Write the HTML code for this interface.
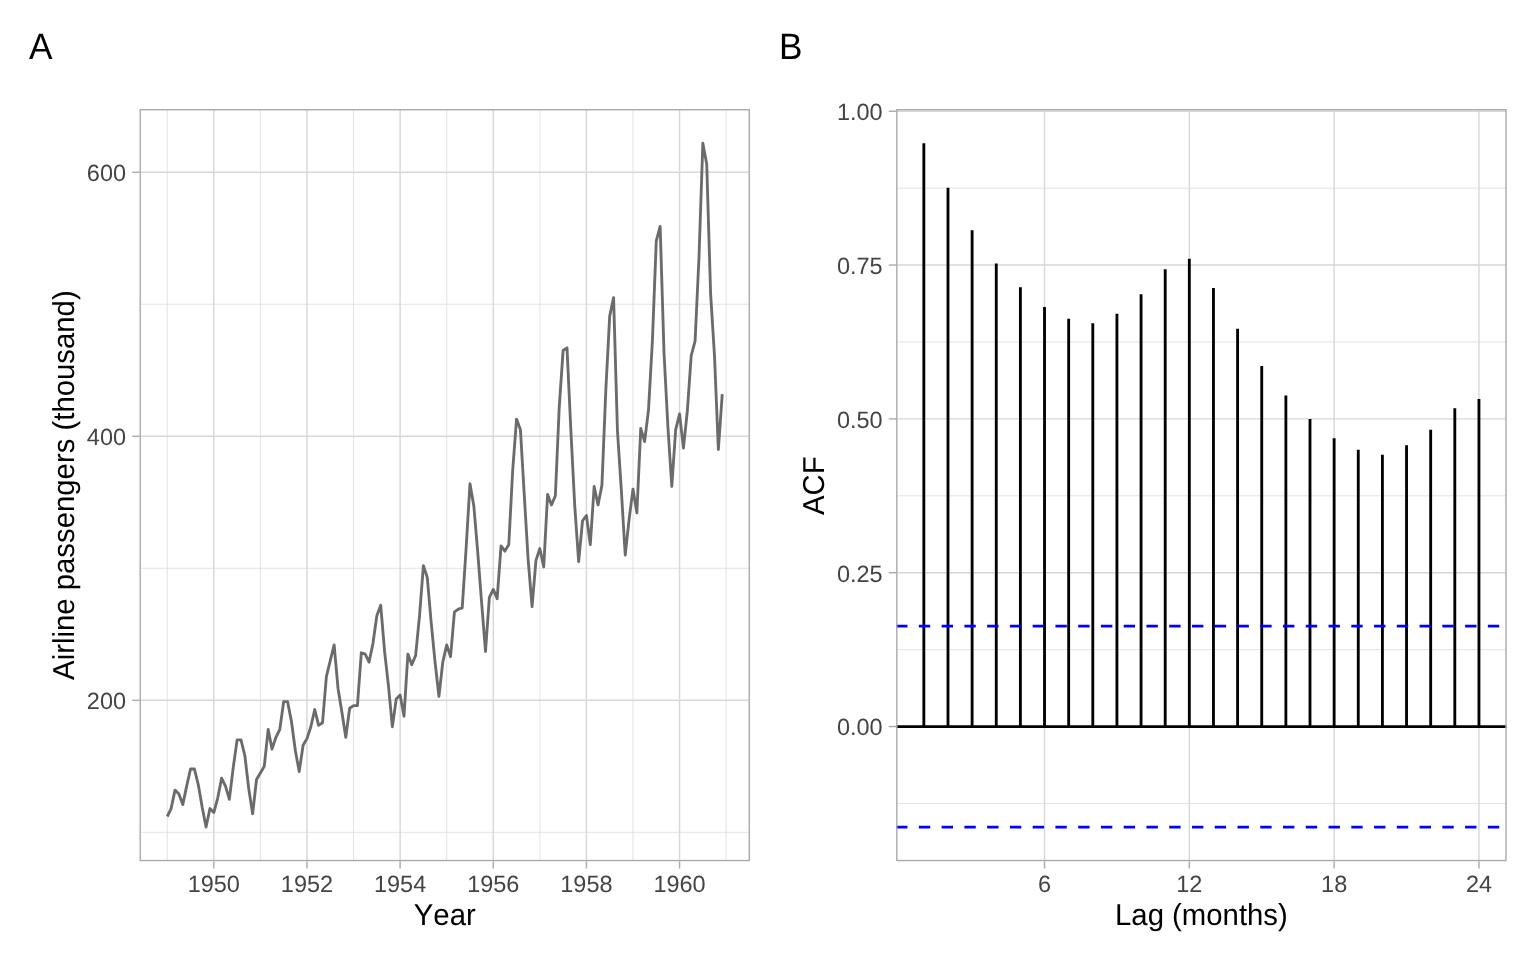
<!DOCTYPE html>
<html lang="en"><head><meta charset="utf-8"><title>AirPassengers</title>
<style>html,body{margin:0;padding:0;background:#fff;overflow:hidden}svg{display:block}text{font-kerning:none;text-rendering:geometricPrecision}</style></head>
<body>
<svg width="1536" height="960" viewBox="0 0 1536 960" font-family="'Liberation Sans', sans-serif">
<defs>
<clipPath id="ca"><rect x="139.5" y="109" width="610.5" height="752.25"/></clipPath>
<clipPath id="cb"><rect x="896.1" y="109" width="610.6" height="752.25"/></clipPath>
</defs>
<rect width="1536" height="960" fill="#fff"/>
<g id="panelA">
<g clip-path="url(#ca)">
<rect x="139.5" y="109" width="610.5" height="752.25" fill="#fff"/>
<line x1="139.5" x2="750" y1="832.34" y2="832.34" stroke="#D7D7D7" stroke-width="0.71"/>
<line x1="139.5" x2="750" y1="568.3" y2="568.3" stroke="#D7D7D7" stroke-width="0.71"/>
<line x1="139.5" x2="750" y1="304.26" y2="304.26" stroke="#D7D7D7" stroke-width="0.71"/>
<line y1="109" y2="861.25" x1="167.25" x2="167.25" stroke="#D7D7D7" stroke-width="0.71"/>
<line y1="109" y2="861.25" x1="260.4" x2="260.4" stroke="#D7D7D7" stroke-width="0.71"/>
<line y1="109" y2="861.25" x1="353.54" x2="353.54" stroke="#D7D7D7" stroke-width="0.71"/>
<line y1="109" y2="861.25" x1="446.69" x2="446.69" stroke="#D7D7D7" stroke-width="0.71"/>
<line y1="109" y2="861.25" x1="539.84" x2="539.84" stroke="#D7D7D7" stroke-width="0.71"/>
<line y1="109" y2="861.25" x1="632.98" x2="632.98" stroke="#D7D7D7" stroke-width="0.71"/>
<line y1="109" y2="861.25" x1="726.13" x2="726.13" stroke="#D7D7D7" stroke-width="0.71"/>
<line x1="139.5" x2="750" y1="700.32" y2="700.32" stroke="#D7D7D7" stroke-width="1.42"/>
<line x1="139.5" x2="750" y1="436.28" y2="436.28" stroke="#D7D7D7" stroke-width="1.42"/>
<line x1="139.5" x2="750" y1="172.24" y2="172.24" stroke="#D7D7D7" stroke-width="1.42"/>
<line y1="109" y2="861.25" x1="213.82" x2="213.82" stroke="#D7D7D7" stroke-width="1.42"/>
<line y1="109" y2="861.25" x1="306.97" x2="306.97" stroke="#D7D7D7" stroke-width="1.42"/>
<line y1="109" y2="861.25" x1="400.12" x2="400.12" stroke="#D7D7D7" stroke-width="1.42"/>
<line y1="109" y2="861.25" x1="493.26" x2="493.26" stroke="#D7D7D7" stroke-width="1.42"/>
<line y1="109" y2="861.25" x1="586.41" x2="586.41" stroke="#D7D7D7" stroke-width="1.42"/>
<line y1="109" y2="861.25" x1="679.56" x2="679.56" stroke="#D7D7D7" stroke-width="1.42"/>
<polyline points="167.25,816.5 171.13,808.57 175.01,790.09 178.89,794.05 182.77,804.61 186.66,786.13 190.54,768.97 194.42,768.97 198.3,784.81 202.18,807.25 206.06,827.06 209.94,808.57 213.82,812.53 217.7,798.01 221.59,778.21 225.47,786.13 229.35,799.33 233.23,767.65 237.11,739.92 240.99,739.92 244.87,755.77 248.75,788.77 252.63,813.85 256.52,779.53 260.4,772.93 264.28,766.33 268.16,729.36 272.04,749.17 275.92,737.28 279.8,729.36 283.68,701.64 287.56,701.64 291.45,721.44 295.33,750.49 299.21,771.61 303.09,745.2 306.97,738.6 310.85,726.72 314.73,709.56 318.61,725.4 322.49,722.76 326.38,676.55 330.26,660.71 334.14,644.87 338.02,688.44 341.9,712.2 345.78,737.28 349.66,708.24 353.54,705.6 357.42,705.6 361.31,652.79 365.19,654.11 369.07,662.03 372.95,643.55 376.83,615.82 380.71,605.26 384.59,651.47 388.47,685.8 392.35,726.72 396.24,699 400.12,695.04 404,716.16 407.88,654.11 411.76,664.67 415.64,655.43 419.52,615.82 423.4,565.66 427.28,577.54 431.17,622.43 435.05,662.03 438.93,696.36 442.81,662.03 446.69,644.87 450.57,656.75 454.45,611.86 458.33,609.22 462.22,607.9 466.1,548.49 469.98,483.8 473.86,506.25 477.74,552.46 481.62,602.62 485.5,651.47 489.38,597.34 493.26,589.42 497.15,598.66 501.03,545.85 504.91,551.14 508.79,544.53 512.67,470.6 516.55,419.11 520.43,429.68 524.31,495.69 528.19,560.38 532.08,606.58 535.96,560.38 539.84,548.49 543.72,566.98 547.6,494.37 551.48,504.93 555.36,495.69 559.24,407.23 563.12,350.46 567.01,347.82 570.89,431 574.77,506.25 578.65,561.7 582.53,520.77 586.41,515.49 590.29,544.53 594.17,486.45 598.05,504.93 601.94,485.12 605.82,390.07 609.7,316.14 613.58,297.66 617.46,431 621.34,490.41 625.22,555.1 629.1,519.45 632.98,489.09 636.87,512.85 640.75,428.36 644.63,441.56 648.51,409.87 652.39,341.22 656.27,240.89 660.15,226.37 664.03,353.1 667.91,427.04 671.8,486.45 675.68,429.68 679.56,413.83 683.44,448.16 687.32,411.19 691.2,355.75 695.08,341.22 698.96,258.05 702.84,143.19 706.73,164.32 710.61,293.7 714.49,355.75 718.37,449.48 722.25,394.03" fill="none" stroke="#6B6B6B" stroke-width="2.85" stroke-linejoin="round" stroke-linecap="butt"/>
</g>
<rect x="139.5" y="109" width="610.5" height="752.25" fill="none" stroke="#ABABAB" stroke-width="2.85" clip-path="url(#ca)"/>
<line x1="132.17" x2="139.5" y1="700.32" y2="700.32" stroke="#ABABAB" stroke-width="1.42"/>
<line x1="132.17" x2="139.5" y1="436.28" y2="436.28" stroke="#ABABAB" stroke-width="1.42"/>
<line x1="132.17" x2="139.5" y1="172.24" y2="172.24" stroke="#ABABAB" stroke-width="1.42"/>
<line y1="861.25" y2="868.58" x1="213.82" x2="213.82" stroke="#ABABAB" stroke-width="1.42"/>
<line y1="861.25" y2="868.58" x1="306.97" x2="306.97" stroke="#ABABAB" stroke-width="1.42"/>
<line y1="861.25" y2="868.58" x1="400.12" x2="400.12" stroke="#ABABAB" stroke-width="1.42"/>
<line y1="861.25" y2="868.58" x1="493.26" x2="493.26" stroke="#ABABAB" stroke-width="1.42"/>
<line y1="861.25" y2="868.58" x1="586.41" x2="586.41" stroke="#ABABAB" stroke-width="1.42"/>
<line y1="861.25" y2="868.58" x1="679.56" x2="679.56" stroke="#ABABAB" stroke-width="1.42"/>
<g font-size="23.47" fill="#444444" text-anchor="end">
<text x="126" y="709.12">200</text>
<text x="126" y="445.08">400</text>
<text x="126" y="181.04">600</text>
</g>
<g font-size="23.47" fill="#444444" text-anchor="middle">
<text x="213.82" y="891.8">1950</text>
<text x="306.97" y="891.8">1952</text>
<text x="400.12" y="891.8">1954</text>
<text x="493.26" y="891.8">1956</text>
<text x="586.41" y="891.8">1958</text>
<text x="679.56" y="891.8">1960</text>
</g>
<text transform="translate(444.75,924.9) scale(1,1.03)" font-size="29.33" fill="#000" text-anchor="middle">Year</text>
<text transform="translate(73.8,485.12) rotate(-90) scale(1,1.03)" font-size="29.33" fill="#000" text-anchor="middle">Airline passengers (thousand)</text>
<text transform="translate(28.9,58.6) scale(1,1.045)" font-size="35.2" fill="#000">A</text>
</g>
<g id="panelB">
<g clip-path="url(#cb)">
<rect x="896.1" y="109" width="610.6" height="752.25" fill="#fff"/>
<line x1="896.1" x2="1506.7" y1="803.47" y2="803.47" stroke="#D7D7D7" stroke-width="0.71"/>
<line x1="896.1" x2="1506.7" y1="649.64" y2="649.64" stroke="#D7D7D7" stroke-width="0.71"/>
<line x1="896.1" x2="1506.7" y1="495.81" y2="495.81" stroke="#D7D7D7" stroke-width="0.71"/>
<line x1="896.1" x2="1506.7" y1="341.97" y2="341.97" stroke="#D7D7D7" stroke-width="0.71"/>
<line x1="896.1" x2="1506.7" y1="188.14" y2="188.14" stroke="#D7D7D7" stroke-width="0.71"/>
<line x1="896.1" x2="1506.7" y1="726.55" y2="726.55" stroke="#D7D7D7" stroke-width="1.42"/>
<line x1="896.1" x2="1506.7" y1="572.72" y2="572.72" stroke="#D7D7D7" stroke-width="1.42"/>
<line x1="896.1" x2="1506.7" y1="418.89" y2="418.89" stroke="#D7D7D7" stroke-width="1.42"/>
<line x1="896.1" x2="1506.7" y1="265.06" y2="265.06" stroke="#D7D7D7" stroke-width="1.42"/>
<line x1="896.1" x2="1506.7" y1="111.23" y2="111.23" stroke="#D7D7D7" stroke-width="1.42"/>
<line y1="109" y2="861.25" x1="1044.53" x2="1044.53" stroke="#D7D7D7" stroke-width="1.42"/>
<line y1="109" y2="861.25" x1="1189.33" x2="1189.33" stroke="#D7D7D7" stroke-width="1.42"/>
<line y1="109" y2="861.25" x1="1334.14" x2="1334.14" stroke="#D7D7D7" stroke-width="1.42"/>
<line y1="109" y2="861.25" x1="1478.95" x2="1478.95" stroke="#D7D7D7" stroke-width="1.42"/>
<line x1="896.1" x2="1506.7" y1="726.55" y2="726.55" stroke="#000" stroke-width="2.85"/>
<line x1="923.85" x2="923.85" y1="726.55" y2="143.19" stroke="#000" stroke-width="2.85"/>
<line x1="947.99" x2="947.99" y1="726.55" y2="187.79" stroke="#000" stroke-width="2.85"/>
<line x1="972.12" x2="972.12" y1="726.55" y2="230.18" stroke="#000" stroke-width="2.85"/>
<line x1="996.26" x2="996.26" y1="726.55" y2="263.44" stroke="#000" stroke-width="2.85"/>
<line x1="1020.39" x2="1020.39" y1="726.55" y2="287.35" stroke="#000" stroke-width="2.85"/>
<line x1="1044.53" x2="1044.53" y1="726.55" y2="307.06" stroke="#000" stroke-width="2.85"/>
<line x1="1068.66" x2="1068.66" y1="726.55" y2="318.65" stroke="#000" stroke-width="2.85"/>
<line x1="1092.8" x2="1092.8" y1="726.55" y2="323.14" stroke="#000" stroke-width="2.85"/>
<line x1="1116.93" x2="1116.93" y1="726.55" y2="313.7" stroke="#000" stroke-width="2.85"/>
<line x1="1141.06" x2="1141.06" y1="726.55" y2="294.15" stroke="#000" stroke-width="2.85"/>
<line x1="1165.2" x2="1165.2" y1="726.55" y2="269.22" stroke="#000" stroke-width="2.85"/>
<line x1="1189.33" x2="1189.33" y1="726.55" y2="258.66" stroke="#000" stroke-width="2.85"/>
<line x1="1213.47" x2="1213.47" y1="726.55" y2="288.03" stroke="#000" stroke-width="2.85"/>
<line x1="1237.6" x2="1237.6" y1="726.55" y2="328.84" stroke="#000" stroke-width="2.85"/>
<line x1="1261.74" x2="1261.74" y1="726.55" y2="366.02" stroke="#000" stroke-width="2.85"/>
<line x1="1285.87" x2="1285.87" y1="726.55" y2="395.54" stroke="#000" stroke-width="2.85"/>
<line x1="1310" x2="1310" y1="726.55" y2="419.05" stroke="#000" stroke-width="2.85"/>
<line x1="1334.14" x2="1334.14" y1="726.55" y2="438.13" stroke="#000" stroke-width="2.85"/>
<line x1="1358.27" x2="1358.27" y1="726.55" y2="449.74" stroke="#000" stroke-width="2.85"/>
<line x1="1382.41" x2="1382.41" y1="726.55" y2="454.81" stroke="#000" stroke-width="2.85"/>
<line x1="1406.54" x2="1406.54" y1="726.55" y2="445.21" stroke="#000" stroke-width="2.85"/>
<line x1="1430.68" x2="1430.68" y1="726.55" y2="429.67" stroke="#000" stroke-width="2.85"/>
<line x1="1454.81" x2="1454.81" y1="726.55" y2="408.35" stroke="#000" stroke-width="2.85"/>
<line x1="1478.95" x2="1478.95" y1="726.55" y2="399.08" stroke="#000" stroke-width="2.85"/>
<line x1="896.1" x2="1506.7" y1="626.05" y2="626.05" stroke="#0000FF" stroke-width="2.85" stroke-dasharray="11.38 11.38"/>
<line x1="896.1" x2="1506.7" y1="827.06" y2="827.06" stroke="#0000FF" stroke-width="2.85" stroke-dasharray="11.38 11.38"/>
</g>
<rect x="896.1" y="109" width="610.6" height="752.25" fill="none" stroke="#ABABAB" stroke-width="2.85" clip-path="url(#cb)"/>
<line x1="888.77" x2="896.1" y1="726.55" y2="726.55" stroke="#ABABAB" stroke-width="1.42"/>
<line x1="888.77" x2="896.1" y1="572.72" y2="572.72" stroke="#ABABAB" stroke-width="1.42"/>
<line x1="888.77" x2="896.1" y1="418.89" y2="418.89" stroke="#ABABAB" stroke-width="1.42"/>
<line x1="888.77" x2="896.1" y1="265.06" y2="265.06" stroke="#ABABAB" stroke-width="1.42"/>
<line x1="888.77" x2="896.1" y1="111.23" y2="111.23" stroke="#ABABAB" stroke-width="1.42"/>
<line y1="861.25" y2="868.58" x1="1044.53" x2="1044.53" stroke="#ABABAB" stroke-width="1.42"/>
<line y1="861.25" y2="868.58" x1="1189.33" x2="1189.33" stroke="#ABABAB" stroke-width="1.42"/>
<line y1="861.25" y2="868.58" x1="1334.14" x2="1334.14" stroke="#ABABAB" stroke-width="1.42"/>
<line y1="861.25" y2="868.58" x1="1478.95" x2="1478.95" stroke="#ABABAB" stroke-width="1.42"/>
<g font-size="23.47" fill="#444444" text-anchor="end">
<text x="882.6" y="735.35">0.00</text>
<text x="882.6" y="581.52">0.25</text>
<text x="882.6" y="427.69">0.50</text>
<text x="882.6" y="273.86">0.75</text>
<text x="882.6" y="120.03">1.00</text>
</g>
<g font-size="23.47" fill="#444444" text-anchor="middle">
<text x="1044.53" y="891.8">6</text>
<text x="1189.33" y="891.8">12</text>
<text x="1334.14" y="891.8">18</text>
<text x="1478.95" y="891.8">24</text>
</g>
<text transform="translate(1201.4,924.9) scale(1,1.03)" font-size="29.33" fill="#000" text-anchor="middle">Lag (months)</text>
<text transform="translate(823.7,485.62) rotate(-90) scale(1,1.03)" font-size="29.33" fill="#000" text-anchor="middle">ACF</text>
<text transform="translate(779.1,58.6) scale(1,1.045)" font-size="35.2" fill="#000">B</text>
</g>
</svg>
</body></html>
